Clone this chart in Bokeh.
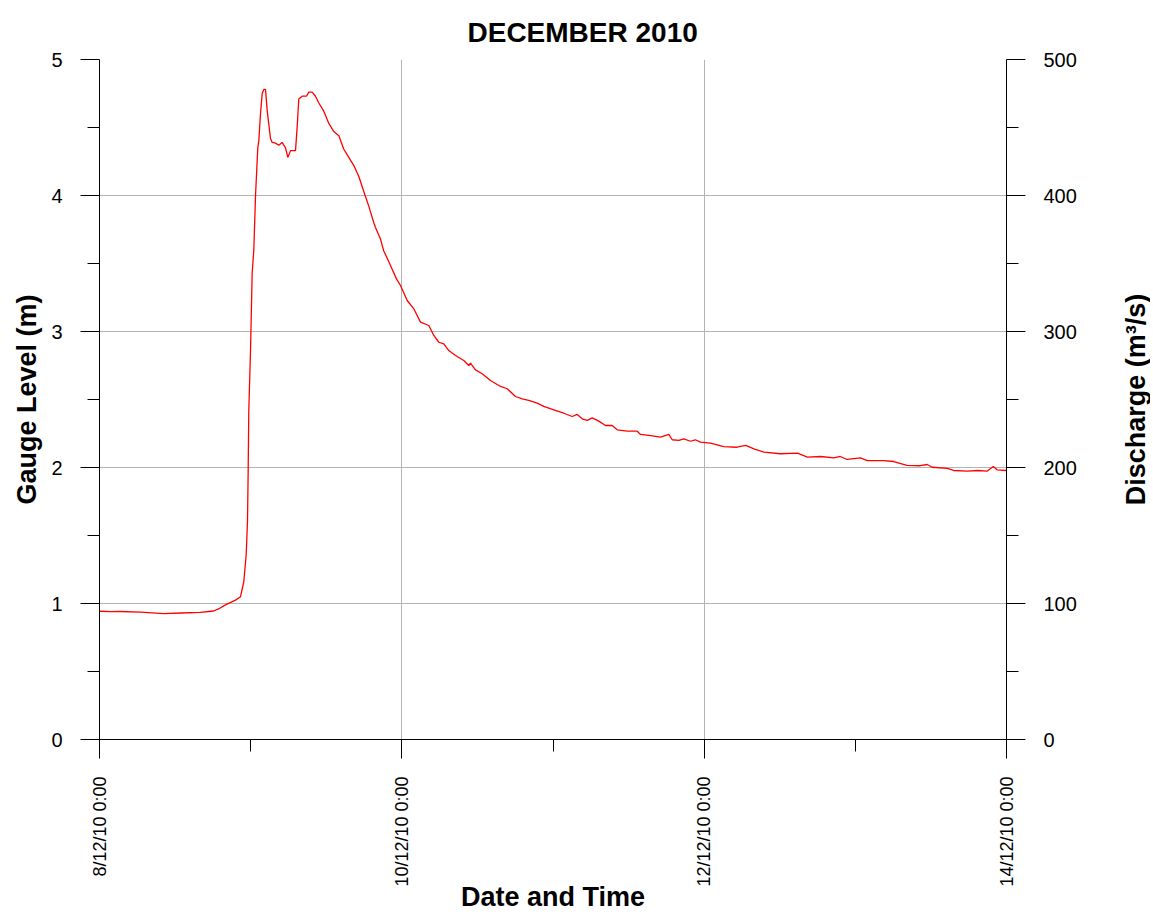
import math
from bokeh.plotting import figure
from bokeh.models import Range1d, LinearAxis, FixedTicker, Title, Label
from bokeh.embed import file_html
from bokeh.resources import INLINE

# hours since 8/12/10 0:00
hours = [0.0, 1.75, 3.3, 6.5, 10.2, 12.9, 16.0, 18.1, 18.9, 20.0, 21.59, 22.39,
         22.91, 23.29, 23.5, 23.61, 23.7, 23.97, 24.24, 24.5, 24.77, 25.13, 25.29,
         25.56, 25.83, 26.09, 26.36, 26.63, 27.15, 27.42, 27.94, 28.47, 29.0, 29.54,
         29.9, 30.33, 31.12, 31.39, 31.64, 32.18, 32.86, 33.23, 33.77, 34.29, 34.82,
         35.61, 36.41, 37.2, 38.0, 38.79, 39.58, 40.38, 41.17, 41.96, 42.76, 43.55,
         43.8, 44.61, 45.1, 46.2, 47.15, 47.79, 48.85, 49.9, 50.96, 52.28, 53.08,
         53.87, 54.66, 55.46, 56.52, 57.84, 58.63, 58.9, 59.7, 60.76, 62.08, 63.67,
         64.73, 66.05, 67.11, 68.16, 69.49, 70.54, 72.13, 73.72, 75.05, 75.84, 76.64,
         77.43, 78.22, 79.27, 80.34, 81.4, 82.19, 83.78, 85.37, 85.9, 87.48, 89.07,
         90.39, 90.93, 91.97, 92.77, 93.83, 94.6, 95.42, 97.0, 99.1, 101.2, 102.6,
         103.9, 105.5, 108.1, 110.8, 112.4, 114.5, 116.6, 117.6, 118.7, 120.8, 121.9,
         124.5, 126.1, 128.2, 130.3, 131.4, 132.2, 134.6, 135.6, 137.8, 139.4, 140.9,
         141.9, 142.5, 144.0]
gauge_level = [0.943, 0.940, 0.941, 0.937, 0.925, 0.930, 0.935, 0.945, 0.960, 0.990,
               1.025, 1.05, 1.16, 1.36, 1.61, 2.0, 2.41, 2.85, 3.43, 3.6, 4.0, 4.35,
               4.40, 4.6, 4.75, 4.78, 4.78, 4.62, 4.42, 4.39, 4.385, 4.37, 4.39, 4.35,
               4.28, 4.33, 4.33, 4.51, 4.71, 4.73, 4.73, 4.76, 4.76, 4.73, 4.68, 4.62,
               4.53, 4.47, 4.44, 4.34, 4.28, 4.22, 4.14, 4.03, 3.92, 3.80, 3.767, 3.68,
               3.596, 3.485, 3.387, 3.338, 3.228, 3.167, 3.069, 3.044, 2.971, 2.921,
               2.909, 2.860, 2.824, 2.787, 2.750, 2.767, 2.718, 2.689, 2.640, 2.596,
               2.579, 2.522, 2.505, 2.493, 2.473, 2.449, 2.424, 2.399, 2.375, 2.390,
               2.358, 2.346, 2.365, 2.341, 2.309, 2.309, 2.277, 2.267, 2.267, 2.243,
               2.235, 2.223, 2.243, 2.204, 2.199, 2.211, 2.193, 2.204, 2.186, 2.179,
               2.154, 2.149, 2.162, 2.137, 2.113, 2.101, 2.105, 2.076, 2.081, 2.071,
               2.081, 2.059, 2.071, 2.051, 2.051, 2.044, 2.015, 2.013, 2.022, 2.002,
               1.993, 1.978, 1.973, 1.978, 1.973, 2.007, 1.983, 1.978]
x_major_ticks = [0, 48, 96, 144]
x_minor_ticks = [24, 72, 120]
x_tick_labels = ["8/12/10 0:00", "10/12/10 0:00", "12/12/10 0:00", "14/12/10 0:00"]
y_major_ticks = [0, 1, 2, 3, 4, 5]
y_minor_ticks = [0.5, 1.5, 2.5, 3.5, 4.5]
q_major_ticks = [0, 100, 200, 300, 400, 500]
q_minor_ticks = [50, 150, 250, 350, 450]

FONT = "Liberation Sans"

p = figure(frame_width=907, frame_height=680,
           x_range=Range1d(0, 144), y_range=Range1d(0, 5),
           output_backend="svg", toolbar_location=None,
           min_border_left=99, min_border_right=144,
           min_border_top=59, min_border_bottom=175)
p.title = Title(text="DECEMBER 2010", align="left", offset=368,
                vertical_align="top",
                text_font=FONT, text_font_size="28px", text_font_style="bold",
                text_color="black", standoff=20)
p.outline_line_color = None
p.background_fill_color = "white"
p.border_fill_color = "white"

p.extra_y_ranges = {"q": Range1d(0, 500)}
raxis = LinearAxis(y_range_name="q")
p.add_layout(raxis, "right")

p.line(hours, gauge_level, line_color="#ff0000", line_width=1.3)

p.xaxis.ticker = FixedTicker(ticks=x_major_ticks, minor_ticks=x_minor_ticks)
p.xaxis.major_label_overrides = {t: l for t, l in zip(x_major_ticks, x_tick_labels)}
p.xaxis.major_label_orientation = math.pi / 2
p.xaxis.axis_label = "Date and Time"

p.yaxis[0].ticker = FixedTicker(ticks=y_major_ticks, minor_ticks=y_minor_ticks)
p.yaxis[0].axis_label = "Gauge Level (m)"
raxis.ticker = FixedTicker(ticks=q_major_ticks, minor_ticks=q_minor_ticks)

for ax in [p.xaxis[0], p.yaxis[0], raxis]:
    ax.axis_line_color = "black"
    ax.axis_line_width = 1
    ax.major_tick_line_color = "black"
    ax.minor_tick_line_color = "black"
    ax.major_tick_in = 0
    ax.major_tick_out = 19
    ax.minor_tick_in = 0
    ax.minor_tick_out = 12
    ax.major_label_standoff = 18
    ax.major_label_text_font = FONT
    ax.major_label_text_color = "black"
    ax.major_label_text_font_size = "20px"
    ax.axis_label_text_font = FONT
    ax.axis_label_text_font_style = "bold"
    ax.axis_label_text_font_size = "27px"
    ax.axis_label_text_color = "black"

p.xaxis.major_label_text_font_size = "18px"
p.xaxis.axis_label_standoff = -8
p.yaxis[0].axis_label_standoff = 6

# right-hand axis title, reading bottom to top like the left one,
# placed just outside the right axis (x in hours beyond the 6-day window)
RIGHT_TITLE_X = 164.6
rlabel = Label(x=RIGHT_TITLE_X, y=2.5, x_units="data", y_units="data",
               text="Discharge (m³/s)", angle=math.pi / 2,
               text_align="center", text_baseline="middle",
               text_font=FONT, text_font_size="27px", text_font_style="bold",
               text_color="black")
p.add_layout(rlabel, "right")

p.xgrid.ticker = FixedTicker(ticks=x_major_ticks)
p.ygrid.ticker = FixedTicker(ticks=y_major_ticks)
for g in [p.xgrid[0], p.ygrid[0]]:
    g.grid_line_color = "#b4b4b4"
    g.grid_line_width = 1

open("out.html", "w").write(file_html(p, INLINE))
